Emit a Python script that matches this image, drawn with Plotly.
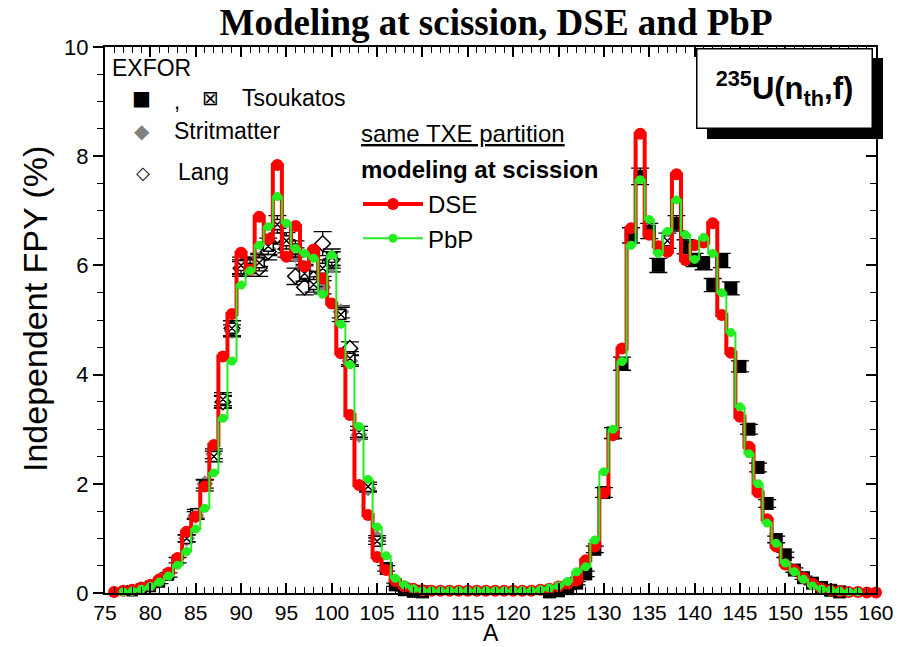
import plotly.graph_objects as go

# ---------------- data ----------------
A_dse = list(range(76, 161))
dse = [0.02, 0.04, 0.06, 0.10, 0.15, 0.25, 0.37, 0.64, 1.12, 1.40,
       1.95, 2.71, 4.33, 5.11, 6.23, 5.92, 6.89, 6.48, 7.84, 6.16,
       6.72, 5.98, 6.29, 5.76, 5.30, 4.39, 3.26, 1.98, 1.43, 0.66,
       0.42, 0.22, 0.12, 0.08, 0.05, 0.04, 0.04, 0.04, 0.04, 0.04,
       0.04, 0.04, 0.04, 0.04, 0.04, 0.04, 0.04, 0.06, 0.08, 0.12,
       0.17, 0.23, 0.60, 0.85, 1.83, 2.89, 4.48, 6.68, 8.41, 6.56,
       6.35, 6.25, 7.67, 6.10, 6.37, 6.42, 6.77, 5.09, 4.40, 3.23,
       2.68, 1.84, 1.35, 0.85, 0.52, 0.42, 0.28, 0.17, 0.08, 0.05,
       0.03, 0.02, 0.02, 0.01, 0.01]

A_pbp = list(range(77, 159))
pbp = [0.02, 0.03, 0.07, 0.12, 0.20, 0.31, 0.51, 0.76, 1.17, 1.55,
       2.20, 3.20, 4.25, 5.64, 5.90, 6.37, 6.71, 7.26, 6.77, 6.31,
       6.22, 6.13, 5.47, 6.19, 4.92, 4.18, 3.05, 2.08, 1.21, 0.68,
       0.27, 0.15, 0.08, 0.04, 0.04, 0.04, 0.04, 0.04, 0.04, 0.04,
       0.04, 0.04, 0.04, 0.04, 0.04, 0.04, 0.06, 0.09, 0.13, 0.21,
       0.39, 0.48, 0.97, 2.22, 3.00, 4.24, 6.37, 7.57, 6.84, 6.22,
       6.62, 7.20, 6.56, 6.11, 6.51, 6.22, 5.50, 4.77, 3.41, 2.55,
       2.00, 1.28, 0.91, 0.55, 0.39, 0.25, 0.13, 0.07, 0.05, 0.03,
       0.02, 0.02]

# EXFOR: Tsoukatos (filled squares)
A_sq = [106, 107, 108, 109, 110, 124, 125, 126, 127, 128, 129, 130, 131, 132,
        133, 134, 135, 136, 138, 139, 140, 141, 142, 143, 144, 145, 146,
        147, 148, 149, 150, 151, 152, 153, 154, 155, 156]
y_sq = [0.45, 0.15, 0.06, 0.03, 0.02, 0.02, 0.04, 0.08, 0.18, 0.35, 0.80, 1.84, 2.93, 4.20,
        6.55, 7.63, 6.63, 6.00, 6.77, 6.34, 6.10, 6.04, 5.64, 6.09, 5.58, 4.15, 3.00,
        2.30, 1.64, 0.98, 0.70, 0.42, 0.28, 0.18, 0.10, 0.05, 0.02]
e_sq = [0.05, 0.03, 0.02, 0.01, 0.01, 0.01, 0.01, 0.02, 0.03, 0.05, 0.06, 0.09, 0.1, 0.12,
        0.14, 0.15, 0.14, 0.13, 0.14, 0.13, 0.12, 0.12, 0.12, 0.13, 0.12, 0.1, 0.09,
        0.08, 0.07, 0.06, 0.05, 0.04, 0.03, 0.03, 0.02, 0.02, 0.01]

# EXFOR: Tsoukatos (crossed squares)
A_tx = [78, 79, 80, 81, 82, 83, 84, 85, 86, 87, 88, 89, 90, 91, 92, 93, 94, 95,
        96, 97, 98, 99, 100, 101, 102, 103, 104, 105, 137]
y_tx = [0.04, 0.07, 0.12, 0.20, 0.33, 0.60, 1.00, 1.45, 1.97, 2.50, 3.55, 4.85, 6.00,
        5.95, 6.05, 6.35, 6.75, 6.45, 6.30, 5.85, 5.65, 5.95, 6.15, 5.10, 4.30, 2.95,
        1.95, 0.95, 6.45]
e_tx = [0.01, 0.02, 0.02, 0.03, 0.04, 0.05, 0.07, 0.08, 0.1, 0.1, 0.12, 0.14, 0.15,
        0.15, 0.15, 0.15, 0.16, 0.15, 0.15, 0.14, 0.14, 0.15, 0.15, 0.13, 0.12, 0.1,
        0.08, 0.06, 0.14]

# EXFOR: Stritmatter (grey diamonds)
A_st = [84, 85, 86, 87, 88, 89, 90, 91, 92, 93, 94, 95, 96, 97, 98, 99, 100,
        101, 102, 103, 104, 105]
y_st = [1.00, 1.42, 2.00, 2.55, 3.50, 4.80, 5.95, 6.00, 6.10, 6.30, 6.55, 6.35,
        6.20, 5.90, 5.75, 5.60, 6.00, 5.15, 4.25, 2.90, 1.92, 1.00]
e_st = [0.06, 0.07, 0.08, 0.09, 0.1, 0.11, 0.12, 0.12, 0.12, 0.12, 0.13, 0.12,
        0.12, 0.12, 0.12, 0.12, 0.12, 0.11, 0.1, 0.08, 0.07, 0.05]

# EXFOR: Lang (open diamonds)
A_la = [88, 89, 90, 91, 92, 93, 94, 95, 96, 97, 98, 99, 100, 102]
y_la = [3.50, 4.85, 5.95, 6.00, 5.95, 6.25, 6.55, 6.30, 5.80, 5.60, 5.75, 6.40, 6.10, 4.48]
e_la = [0.12, 0.14, 0.15, 0.15, 0.15, 0.15, 0.16, 0.15, 0.15, 0.14, 0.14, 0.22, 0.15, 0.12]

# ---------------- figure ----------------
L, R, T, B = 105, 31, 47, 54
W, H = 907, 647
PW, PH = W - L - R, H - T - B


def px(x):
    return (x - L) / PW


def py(y):
    return 1 - (y - T) / PH


fig = go.Figure()

eb = lambda arr: dict(type="data", array=arr, thickness=1.3, width=9, color="black")

fig.add_trace(go.Scatter(x=A_st, y=y_st, mode="markers", error_y=eb(e_st),
                         marker=dict(symbol="diamond", size=13, color="#808080"),
                         showlegend=False, cliponaxis=False))
fig.add_trace(go.Scatter(x=A_la, y=y_la, mode="markers", error_y=eb(e_la),
                         marker=dict(symbol="diamond", size=12, color="white",
                                     line=dict(color="black", width=1.5)),
                         showlegend=False, cliponaxis=False))
fig.add_trace(go.Scatter(x=A_tx, y=y_tx, mode="markers", error_y=eb(e_tx),
                         marker=dict(symbol="square-x", size=10, color="white",
                                     line=dict(color="black", width=1.5)),
                         showlegend=False, cliponaxis=False))
fig.add_trace(go.Scatter(x=A_sq, y=y_sq, mode="markers", error_y=eb(e_sq),
                         marker=dict(symbol="square", size=13, color="black"),
                         showlegend=False, cliponaxis=False))

fig.add_trace(go.Scatter(x=A_dse, y=dse, mode="lines+markers", name="DSE",
                         line=dict(color="#ff0000", width=4, shape="hvh"),
                         marker=dict(symbol="circle", size=12, color="#ff0000"),
                         cliponaxis=False))
fig.add_trace(go.Scatter(x=A_pbp, y=pbp, mode="lines+markers", name="PbP",
                         line=dict(color="#22ee22", width=2, shape="hvh"),
                         marker=dict(symbol="circle", size=9, color="#22ee22"),
                         cliponaxis=False))
# invisible helper for the right-hand axis
fig.add_trace(go.Scatter(x=A_dse, y=dse, yaxis="y2", mode="markers",
                         marker=dict(opacity=0), showlegend=False, hoverinfo="skip"))

xtickfont = dict(family="Liberation Sans, Arial", size=21, color="black")
ytickfont = dict(family="Liberation Sans, Arial", size=22, color="black")

fig.update_layout(
    width=W, height=H,
    margin=dict(l=L, r=R, t=T, b=B, autoexpand=False),
    paper_bgcolor="white", plot_bgcolor="white",
    title=dict(text="<b>Modeling at scission, DSE and PbP</b>",
               font=dict(family="Liberation Serif, Times New Roman", size=37, color="black"),
               x=px(496), xref="paper", xanchor="center",
               y=1 - 22 / H, yref="container", yanchor="middle"),
    xaxis=dict(range=[75, 160], tickmode="linear", tick0=75, dtick=5,
               ticks="inside", ticklen=10, tickwidth=1.5, tickcolor="black",
               minor=dict(dtick=1, ticks="inside", ticklen=6, tickwidth=1.3, tickcolor="black"),
               showline=True, linewidth=2, linecolor="black", mirror="ticks",
               showgrid=False, zeroline=False, tickfont=xtickfont, automargin=False),
    yaxis=dict(range=[0, 10], tickmode="linear", tick0=0, dtick=2,
               ticks="outside", ticklen=10, tickwidth=1.5, tickcolor="black",
               minor=dict(dtick=0.5, ticks="outside", ticklen=6, tickwidth=1.3, tickcolor="black"),
               showline=True, linewidth=2, linecolor="black", mirror=True,
               showgrid=False, zeroline=False, tickfont=ytickfont, automargin=False),
    yaxis2=dict(range=[0, 10], overlaying="y", side="right", matches="y",
                tickmode="linear", tick0=0, dtick=2, ticks="inside", ticklen=10,
                tickwidth=1.5, tickcolor="black",
                minor=dict(dtick=0.5, ticks="inside", ticklen=6, tickwidth=1.3, tickcolor="black"),
                showticklabels=False, showgrid=False, zeroline=False, automargin=False,
                showline=True, linewidth=2, linecolor="black"),
    legend=dict(x=px(358), y=py(182), xanchor="left", yanchor="top",
                bgcolor="rgba(0,0,0,0)", itemwidth=60, tracegroupgap=0,
                font=dict(family="Liberation Sans, Arial", size=24, color="black")),
    showlegend=True,
)

# axis titles
fig.add_annotation(xref="paper", yref="paper", x=px(491), y=py(633), text="A",
                   showarrow=False, xanchor="center", yanchor="middle",
                   font=dict(family="Liberation Sans, Arial", size=23, color="black"))
fig.add_annotation(xref="paper", yref="paper", x=px(35), y=py(309), text="Independent FPY (%)",
                   showarrow=False, xanchor="center", yanchor="middle", textangle=-90,
                   font=dict(family="Liberation Sans, Arial", size=34, color="black"))

# reaction label box with drop shadow
fig.add_shape(type="rect", xref="paper", yref="paper",
              x0=px(707), x1=px(883), y0=py(139), y1=py(58),
              fillcolor="black", line=dict(width=0), layer="above")
fig.add_annotation(xref="paper", yref="paper", x=px(784), y=py(89),
                   text="<b><sup>235</sup>U(n<sub>th</sub>,f)</b>", showarrow=False,
                   font=dict(family="Liberation Sans, Arial", size=31, color="black"),
                   bgcolor="white", bordercolor="black", borderwidth=1.5,
                   width=172, height=76, xanchor="center", yanchor="middle")

lf = dict(family="Liberation Sans, Arial", size=22, color="black")


def ann(x, y, text, font=lf, anchor="left"):
    fig.add_annotation(xref="paper", yref="paper", x=px(x), y=py(y), text=text,
                       showarrow=False, font=font, xanchor=anchor, yanchor="middle")


ann(110, 68, "EXFOR", dict(family="Liberation Sans, Arial", size=23, color="black"))
ann(141, 98, "■", dict(family="DejaVu Sans", size=20, color="black"), "center")
ann(177, 101, ",", lf, "center")
ann(210, 98, "⊠", dict(family="DejaVu Sans", size=20, color="black"), "center")
ann(240, 98, "Tsoukatos", dict(family="Liberation Sans, Arial", size=23, color="black"))
ann(142, 131, "◆", dict(family="DejaVu Sans", size=20, color="#808080"), "center")
ann(172, 131, "Stritmatter", dict(family="Liberation Sans, Arial", size=23, color="black"))
ann(143, 172, "◇", dict(family="DejaVu Sans", size=18, color="black"), "center")
ann(176, 172, "Lang", dict(family="Liberation Sans, Arial", size=23, color="black"))
ann(359, 133, "<u>same TXE partition</u>", dict(family="Liberation Sans, Arial", size=24, color="black"))
ann(359, 169, "<b>modeling at scission</b>", dict(family="Liberation Sans, Arial", size=24, color="black"))

fig.write_html("out.html")
